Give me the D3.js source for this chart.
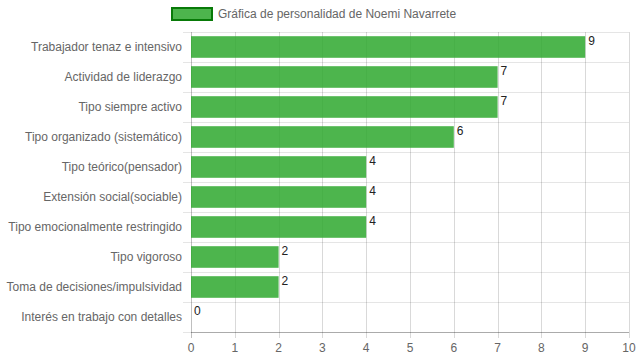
<!DOCTYPE html>
<html><head><meta charset="utf-8">
<script src="https://cdn.jsdelivr.net/npm/d3@7"></script>
<style>body{margin:0;background:#fff}svg{display:block}</style>
</head><body>
<script>
const categories = ["Trabajador tenaz e intensivo","Actividad de liderazgo","Tipo siempre activo","Tipo organizado (sistemático)","Tipo teórico(pensador)","Extensión social(sociable)","Tipo emocionalmente restringido","Tipo vigoroso","Toma de decisiones/impulsividad","Interés en trabajo con detalles"];
const values = [9,7,7,6,4,4,4,2,2,0];
const xTicks = [0,1,2,3,4,5,6,7,8,9,10];
const seriesName = "Gráfica de personalidad de Noemi Navarrete";

const W=639,H=360;
const svg=d3.select("body").append("svg").attr("width",W).attr("height",H);
const font="Arial, 'Liberation Sans', sans-serif";
const x=d3.scaleLinear().domain([0,10]).range([191,629]);
const y=d3.scaleBand().domain(categories).range([32,332]);

// horizontal grid
svg.append("g").selectAll("line").data(d3.range(categories.length+1)).join("line")
 .attr("x1",183).attr("x2",629)
 .attr("y1",i=>32+i*y.step()+0.5).attr("y2",i=>32+i*y.step()+0.5)
 .attr("stroke","rgba(0,0,0,0.1)");
// vertical grid
svg.append("g").selectAll("line").data(xTicks).join("line")
 .attr("x1",d=>Math.round(x(d))+0.5).attr("x2",d=>Math.round(x(d))+0.5)
 .attr("y1",32).attr("y2",338)
 .attr("stroke",d=>d===0?"rgba(0,0,0,0.25)":"rgba(0,0,0,0.15)");
// axis line
svg.append("line").attr("x1",191).attr("x2",629).attr("y1",332.5).attr("y2",332.5).attr("stroke","rgba(0,0,0,0.25)");

// bars
const bh=y.bandwidth()*0.72;
svg.append("g").selectAll("rect").data(values).join("rect")
 .attr("x",x(0)).attr("y",(d,i)=>y(categories[i])+(y.bandwidth()-bh)/2)
 .attr("width",d=>x(d)-x(0)).attr("height",bh)
 .attr("fill","rgba(46,168,46,0.85)");

// value labels
svg.append("g").selectAll("text").data(values).join("text")
 .attr("x",d=>x(d)+3).attr("y",(d,i)=>y(categories[i])+(y.bandwidth()-bh)/2+9)
 .attr("font-family",font).attr("font-size",12).attr("fill","#222").text(d=>d);

// category labels
svg.append("g").selectAll("text").data(categories).join("text")
 .attr("x",182).attr("y",d=>y(d)+y.bandwidth()/2+4)
 .attr("text-anchor","end").attr("font-family",font).attr("font-size",12).attr("fill","#666").text(d=>d);

// x tick labels
svg.append("g").selectAll("text").data(xTicks).join("text")
 .attr("x",d=>x(d)).attr("y",352).attr("text-anchor","middle")
 .attr("font-family",font).attr("font-size",12).attr("fill","#666").text(d=>d);

// legend
svg.append("rect").attr("x",172).attr("y",8).attr("width",40).attr("height",12)
 .attr("fill","rgba(46,168,46,0.85)").attr("stroke","#087a08").attr("stroke-width",2);
svg.append("text").attr("x",218).attr("y",18).attr("font-family",font).attr("font-size",12).attr("fill","#666").text(seriesName);
</script>
</body></html>
